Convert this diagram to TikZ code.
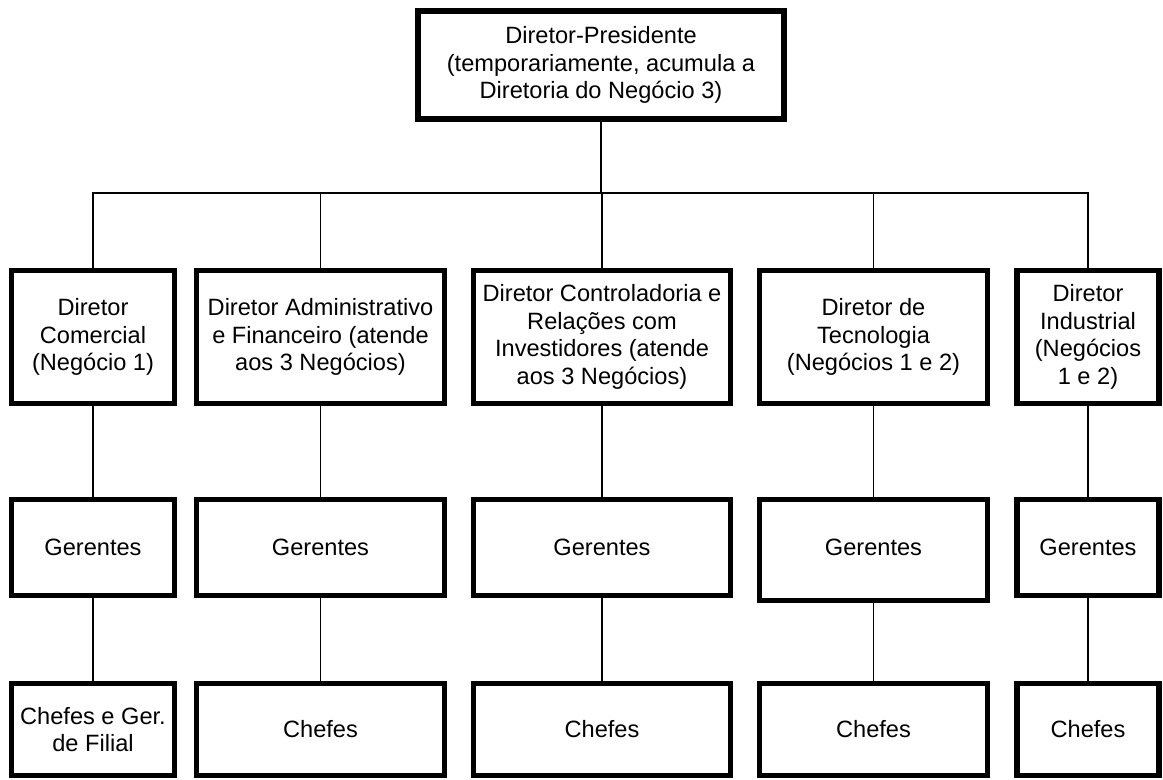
\documentclass[tikz,border=0pt]{standalone}
\usepackage{fontspec}
\setmainfont{Liberation Sans}
\usepackage{tikz}
\usetikzlibrary{positioning}
\tikzset{
	orgbox/.style={rectangle, draw=black, line width=2.6pt, fill=white, align=center, text centered, inner sep=2pt, font=\fontsize{11.8pt}{13.75pt}\selectfont},
	topbox/.style={orgbox, line width=3pt, minimum width=183pt, minimum height=54pt},
	dirbox/.style={orgbox, minimum height=66.5pt},
	link/.style={draw=black, line width=0.7pt},
}

\begin{document}
\begin{tikzpicture}[x=0.5pt, y=-0.5pt]
	\useasboundingbox (0,0) rectangle (1163,780);
	% presidente
	\node[topbox] (pres) at (601,65) {Diretor-Presidente\\(temporariamente, acumula a\\Diretoria do Negócio 3)};
	\coordinate (bus) at (601,193);
	% diretores
	\node[dirbox, minimum width=81.5pt] (d1) at (93,337) {Diretor\\Comercial\\(Negócio 1)};
	\node[dirbox, minimum width=124pt] (d2) at (320.5,337) {Diretor Administrativo\\e Financeiro (atende\\aos 3 Negócios)};
	\node[dirbox, minimum width=128.5pt] (d3) at (602,337) {Diretor Controladoria e\\Relações com\\Investidores (atende\\aos 3 Negócios)};
	\node[dirbox, minimum width=114pt] (d4) at (873.5,337) {Diretor de\\Tecnologia\\(Negócios 1 e 2)};
	\node[dirbox, minimum width=71pt] (d5) at (1088,337) {Diretor\\Industrial\\(Negócios\\1 e 2)};
	% gerentes e chefes
	\foreach \idx/\xc/\bw/\yc/\bh/\td in {1/93/81.5/547.5/48/0, 2/320.5/124/547.5/48/0, 3/602/128.5/547.5/48/0, 4/873.5/114/550/50.5/2.5, 5/1088/71/547.5/48/0} {
		\node[orgbox, minimum width=\bw pt, minimum height=\bh pt, text depth=\td pt] (g\idx) at (\xc,\yc) {Gerentes};
	}
	\node[orgbox, minimum width=81.5pt, minimum height=46pt] (c1) at (93,729.5) {Chefes e Ger.\\de Filial};
	\foreach \idx/\xc/\bw in {2/320.5/124, 3/602/128.5, 4/873.5/114, 5/1088/71} {
		\node[orgbox, minimum width=\bw pt, minimum height=46pt] (c\idx) at (\xc,729.5) {Chefes};
	}
	% ligacoes
	\draw[link] (pres) -- (bus);
	\foreach \idx in {1,...,5} {
		\draw[link] (d\idx.north) |- (bus);
		\draw[link] (d\idx) -- (g\idx);
		\draw[link] (g\idx) -- (c\idx);
	}
\end{tikzpicture}
\end{document}
